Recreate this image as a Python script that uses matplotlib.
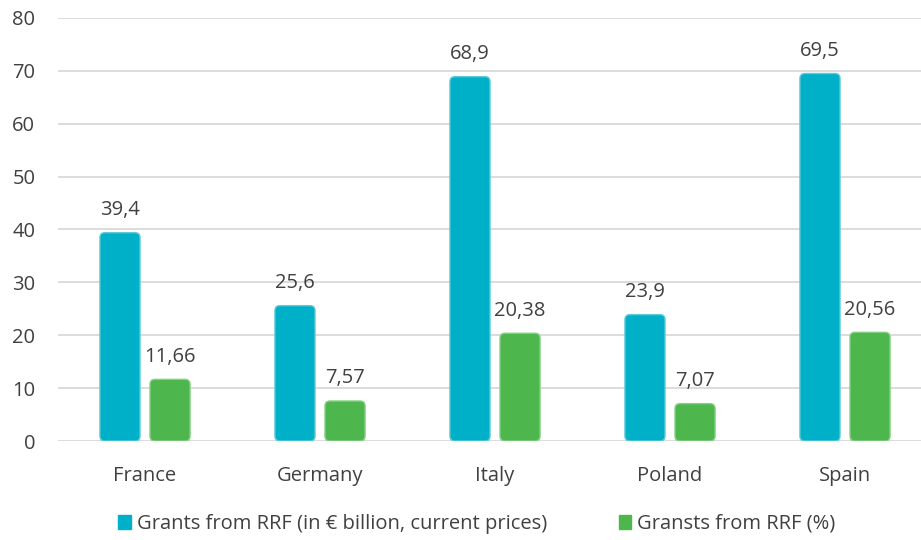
import numpy as np
import matplotlib.pyplot as plt
from matplotlib.patches import FancyBboxPatch, Patch

plt.rcParams['font.family'] = ['Open Sans', 'DejaVu Sans']

# data
countries = ["France", "Germany", "Italy", "Poland", "Spain"]
grants_bn = [39.4, 25.6, 68.9, 23.9, 69.5]
grants_pct = [11.66, 7.57, 20.38, 7.07, 20.56]
grants_bn_labels = ["39,4", "25,6", "68,9", "23,9", "69,5"]
grants_pct_labels = ["11,66", "7,57", "20,38", "7,07", "20,56"]

blue = "#00B0C8"
green = "#4DB74E"
text_col = "#404040"

fig = plt.figure(figsize=(9.21, 5.4), dpi=100)
# axes runs a little past the right edge, like the original
ax = fig.add_axes([57.5 / 921, 0.1833, 875 / 921, 0.7834])

x = np.arange(len(countries))
w = 0.229
off = 0.143

bars_a = ax.bar(x - off, grants_bn, w, color=blue)
bars_b = ax.bar(x + off, grants_pct, w, color=green)

ax.set_xlim(-0.5, len(countries) - 0.5)
ax.set_ylim(0, 80)

# swap plain bars for rounded ones
px_x = len(countries) / 875.0
px_y = 80 / 423.0
for bars, col, edge in [(bars_a, blue, "#5CCAD8"), (bars_b, green, "#86D085")]:
    for b in bars:
        bx, by = b.get_x(), b.get_y()
        bw, bh = b.get_width(), b.get_height()
        b.set_visible(False)
        p = FancyBboxPatch((bx, by), bw, bh,
                           boxstyle="round,pad=0,rounding_size=%f" % (5 * px_x),
                           mutation_aspect=px_y / px_x,
                           facecolor=col, edgecolor=edge, linewidth=1.0, zorder=3)
        ax.add_patch(p)

for b, lab in zip(bars_a, grants_bn_labels):
    ax.annotate(lab, (b.get_x() + b.get_width() / 2, b.get_height()),
                xytext=(0, 9), textcoords="offset points", ha="center", va="bottom",
                fontsize=14.5, color=text_col)
for b, lab in zip(bars_b, grants_pct_labels):
    ax.annotate(lab, (b.get_x() + b.get_width() / 2, b.get_height()),
                xytext=(0, 9), textcoords="offset points", ha="center", va="bottom",
                fontsize=14.5, color=text_col)

ax.set_yticks(np.arange(0, 81, 10))
ax.set_xticks(x)
ax.set_xticklabels(countries)
ax.tick_params(axis="both", length=0, labelsize=14.5, colors=text_col)
ax.tick_params(axis="x", pad=18)
ax.tick_params(axis="y", pad=16)

ax.yaxis.grid(True, color="#D9D9D9", linewidth=1.3)
ax.set_axisbelow(True)
for s in ax.spines.values():
    s.set_visible(False)

handles = [Patch(facecolor=blue, edgecolor=blue),
           Patch(facecolor=green, edgecolor=green)]
fig.legend(handles, ["Grants from RRF (in € billion, current prices)", "Gransts from RRF (%)"],
           loc="center", bbox_to_anchor=(0.518, 0.03), ncol=2, frameon=False,
           fontsize=14.5, handlelength=0.6, handleheight=0.7, handletextpad=0.3,
           columnspacing=3.6, labelcolor=text_col)

fig.savefig("out.png", dpi=100)
